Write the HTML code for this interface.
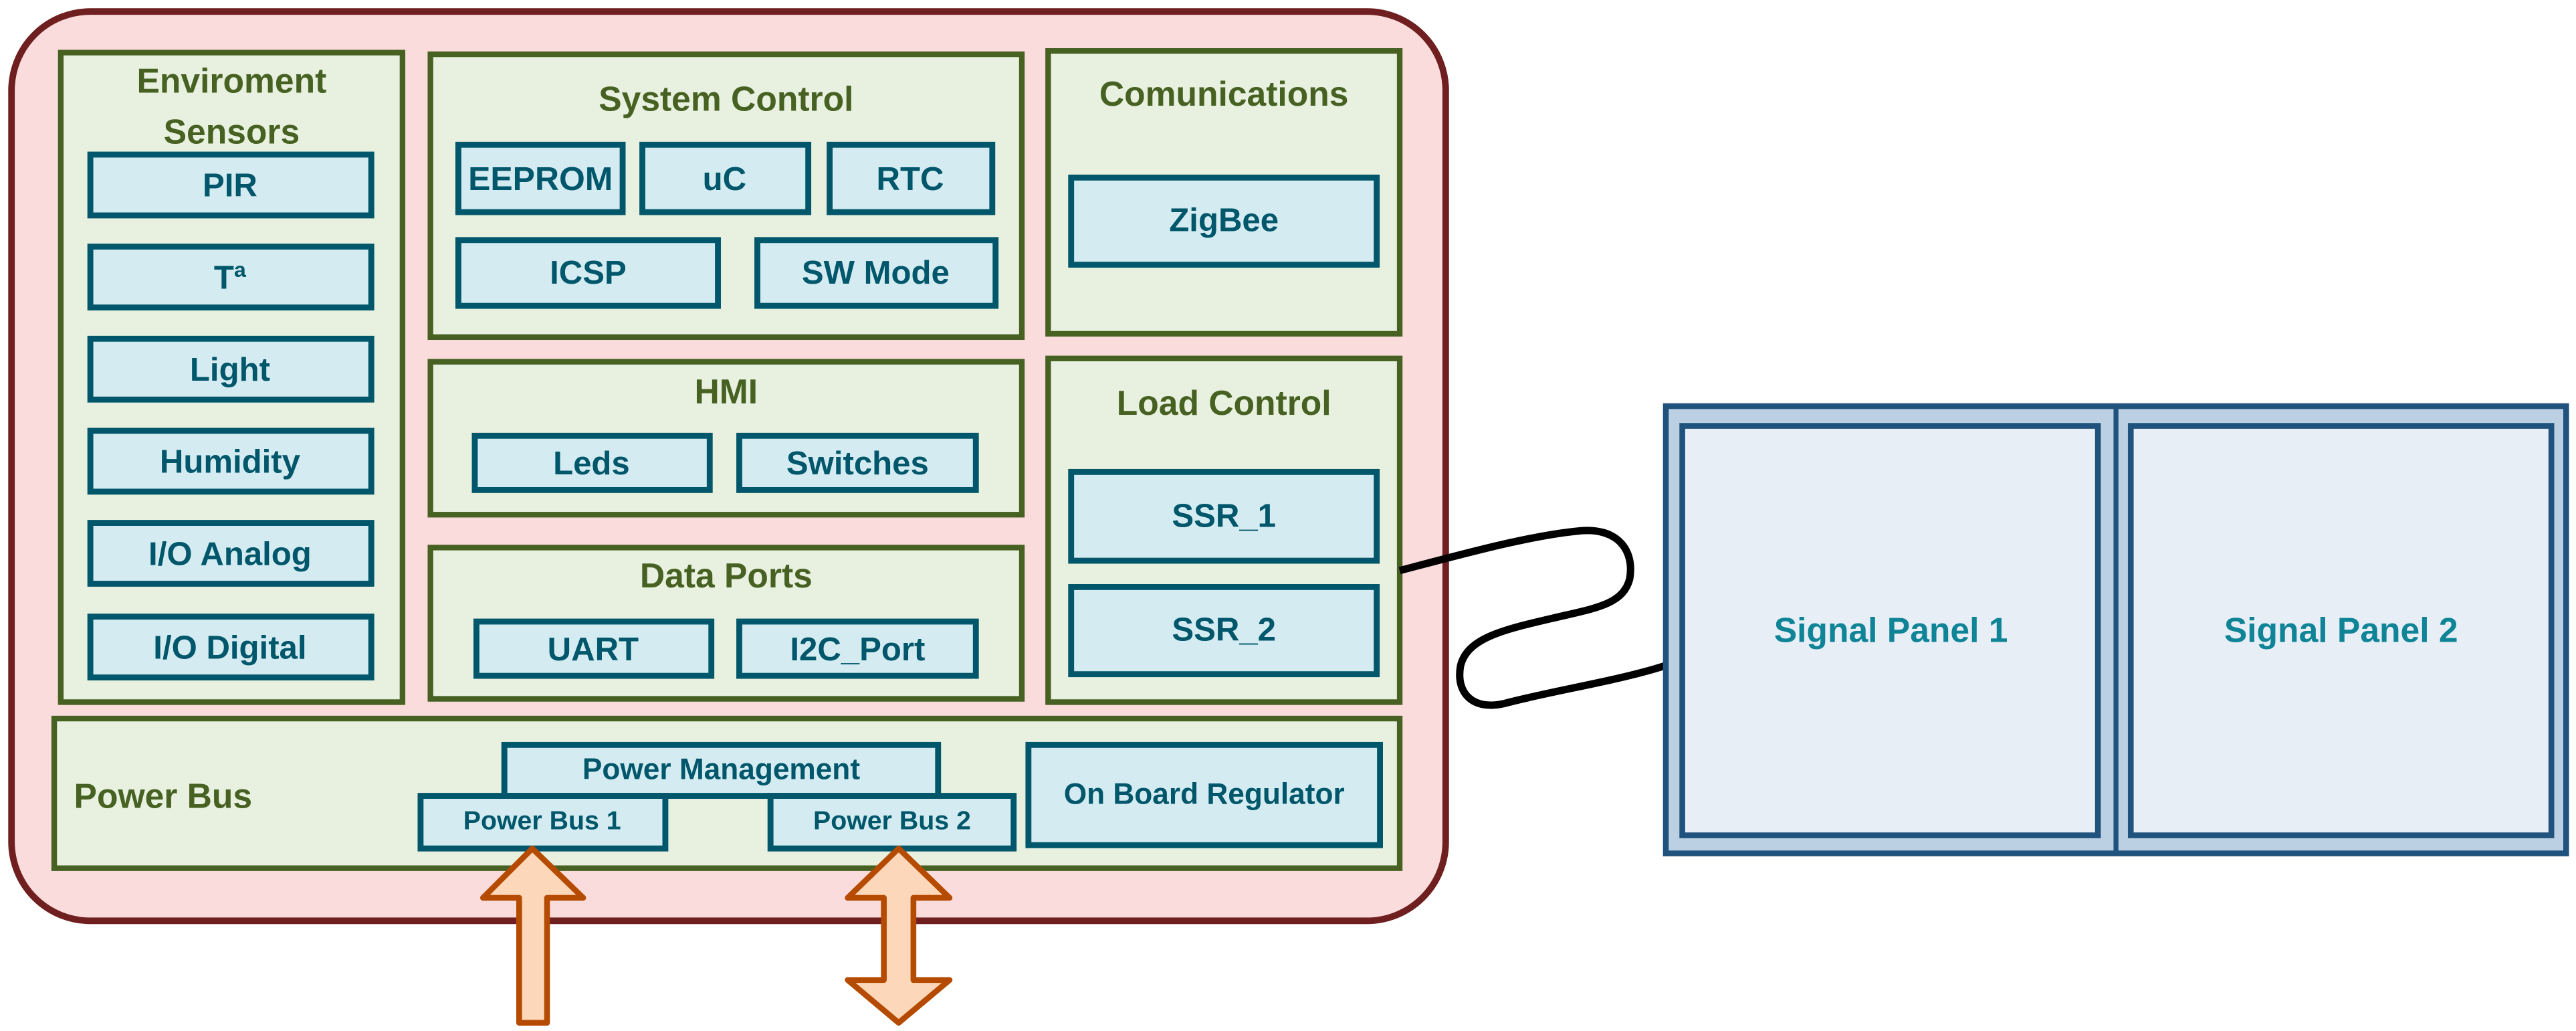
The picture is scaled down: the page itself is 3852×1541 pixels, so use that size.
<!DOCTYPE html>
<html><head><meta charset="utf-8"><style>
html,body{margin:0;padding:0;background:#fff;}
svg{display:block;}
text{font-family:"Liberation Sans",sans-serif;font-weight:bold;text-anchor:middle;dominant-baseline:central;}
.g{fill:#e8f0df;stroke:#466121;stroke-width:3.4;}
.b{fill:#d4ecf1;stroke:#00566a;stroke-width:3.6;}
.gt{fill:#466121;font-size:21px;}
.bt{fill:#00566a;font-size:20px;}
</style></head><body>
<svg width="3852" height="1541" viewBox="0 0 1568 627" preserveAspectRatio="none" xmlns="http://www.w3.org/2000/svg">
<rect x="7" y="7" width="873" height="553" rx="48" fill="#f9dcdb" stroke="#6f1f1f" stroke-width="4"/>
<rect class="g" x="37" y="32" width="208" height="395"/>
<text class="gt" x="141" y="49">Enviroment</text>
<text class="gt" x="141" y="80">Sensors</text>
<rect class="b" x="55" y="94" width="171" height="37"/><text class="bt" x="140" y="113">PIR</text>
<rect class="b" x="55" y="150" width="171" height="37"/><text class="bt" x="140" y="169">Tª</text>
<rect class="b" x="55" y="206" width="171" height="37"/><text class="bt" x="140" y="225">Light</text>
<rect class="b" x="55" y="262" width="171" height="37"/><text class="bt" x="140" y="281">Humidity</text>
<rect class="b" x="55" y="318" width="171" height="37"/><text class="bt" x="140" y="337">I/O Analog</text>
<rect class="b" x="55" y="375" width="171" height="37"/><text class="bt" x="140" y="394">I/O Digital</text>
<rect class="g" x="262" y="33" width="360" height="172"/>
<text class="gt" x="442" y="60">System Control</text>
<rect class="b" x="279" y="88" width="100" height="41"/><text class="bt" x="329" y="109" textLength="88" lengthAdjust="spacingAndGlyphs">EEPROM</text>
<rect class="b" x="391" y="88" width="101" height="41"/><text class="bt" x="441" y="109">uC</text>
<rect class="b" x="505" y="88" width="99" height="41"/><text class="bt" x="554" y="109">RTC</text>
<rect class="b" x="279" y="146" width="158" height="40"/><text class="bt" x="358" y="166">ICSP</text>
<rect class="b" x="461" y="146" width="145" height="40"/><text class="bt" x="533" y="166">SW Mode</text>
<rect class="g" x="638" y="31" width="214" height="172"/>
<text class="gt" x="745" y="57">Comunications</text>
<rect class="b" x="652" y="108" width="186" height="53"/><text class="bt" x="745" y="134">ZigBee</text>
<rect class="g" x="262" y="220" width="360" height="93"/>
<text class="gt" x="442" y="238">HMI</text>
<rect class="b" x="289" y="265" width="143" height="33"/><text class="bt" x="360" y="282">Leds</text>
<rect class="b" x="450" y="265" width="144" height="33"/><text class="bt" x="522" y="282">Switches</text>
<rect class="g" x="262" y="333" width="360" height="92"/>
<text class="gt" x="442" y="350">Data Ports</text>
<rect class="b" x="290" y="378" width="143" height="33"/><text class="bt" x="361" y="395">UART</text>
<rect class="b" x="450" y="378" width="144" height="33"/><text class="bt" x="522" y="395">I2C_Port</text>
<rect class="g" x="638" y="218" width="214" height="209"/>
<text class="gt" x="745" y="245">Load Control</text>
<rect class="b" x="652" y="287" width="186" height="54"/><text class="bt" x="745" y="314">SSR_1</text>
<rect class="b" x="652" y="357" width="186" height="53"/><text class="bt" x="745" y="383">SSR_2</text>
<rect class="g" x="33" y="437" width="819" height="91"/>
<text class="gt" x="45" y="484" style="text-anchor:start">Power Bus</text>
<rect class="b" x="307" y="453" width="264" height="31"/><text class="bt" x="439" y="468" style="font-size:18px">Power Management</text>
<rect class="b" x="256" y="484" width="149" height="32"/><text class="bt" x="330" y="499" style="font-size:16px">Power Bus 1</text>
<rect class="b" x="469" y="484" width="148" height="32"/><text class="bt" x="543" y="499" style="font-size:16px">Power Bus 2</text>
<rect class="b" x="626" y="453" width="214" height="61"/><text class="bt" x="733" y="483" style="font-size:18px">On Board Regulator</text>
<polygon points="324,516 355,546 333,546 333,622 316,622 316,546 294,546" fill="#fdd7b9" stroke="#b54b00" stroke-width="3.5" stroke-linejoin="round"/>
<polygon points="547,516 578,546 556,546 556,596 578,596 547,622 516,596 538,596 538,546 516,546" fill="#fdd7b9" stroke="#b54b00" stroke-width="3.5" stroke-linejoin="round"/>
<path d="M852,347 C890,337 930,326 960,323 C985,320 995,335 992,352 C988,368 970,370 945,376 C915,383 893,388 889,405 C886,422 897,432 915,428 C945,420 985,414 1013,405" fill="none" stroke="#000" stroke-width="4.5"/>
<rect x="1014" y="247" width="548" height="272" fill="#bcd0e3" stroke="#1f527c" stroke-width="3.5"/>
<line x1="1288" y1="247" x2="1288" y2="519" stroke="#1f527c" stroke-width="3"/>
<rect x="1024" y="259" width="253" height="249" fill="#e7eef6" stroke="#1f527c" stroke-width="3.5"/>
<rect x="1297" y="259" width="256" height="249" fill="#e7eef6" stroke="#1f527c" stroke-width="3.5"/>
<text x="1151" y="383" style="fill:#0e8496;font-size:21px">Signal Panel 1</text>
<text x="1425" y="383" style="fill:#0e8496;font-size:21px">Signal Panel 2</text>
</svg>
</body></html>
